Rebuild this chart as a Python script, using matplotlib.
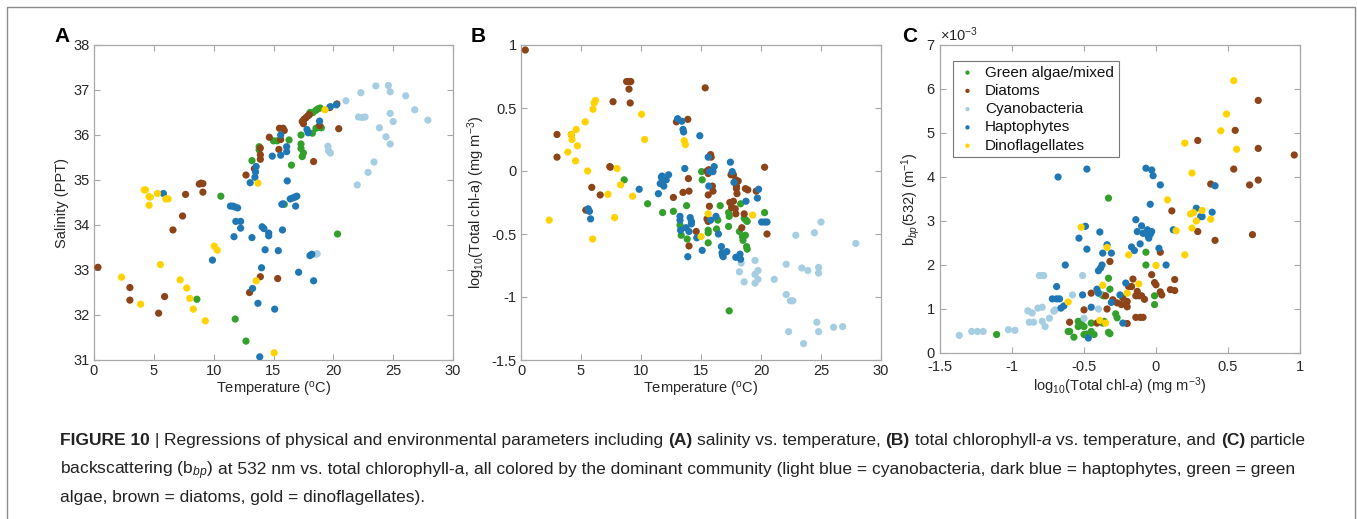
import matplotlib
matplotlib.use('Agg')
import matplotlib.pyplot as plt
from matplotlib.transforms import IdentityTransform
from matplotlib.patches import Rectangle
from matplotlib.ticker import ScalarFormatter

plt.rcParams['font.family'] = ['Liberation Sans', 'DejaVu Sans']
plt.rcParams['mathtext.fontset'] = 'custom'
plt.rcParams['mathtext.rm'] = 'Liberation Sans'
plt.rcParams['mathtext.it'] = 'Liberation Sans:italic'
plt.rcParams['mathtext.bf'] = 'Liberation Sans:bold'
plt.rcParams['axes.unicode_minus'] = False

groups = ['Green algae/mixed', 'Diatoms', 'Cyanobacteria', 'Haptophytes', 'Dinoflagellates']
colors = ['#33a02c', '#8c4418', '#a6cee3', '#1f78b4', '#ffd200']

# ---- panel A : salinity vs temperature ----
a_green_t = [8.6, 10.6, 11.8, 12.7, 13.2, 13.8, 13.8, 15.0, 15.3, 15.9, 16.3, 16.5, 17.3, 17.3, 17.3, 17.4, 17.5,
             18.05, 18.3, 18.55, 18.7, 18.9, 18.25, 18.55, 18.8, 19.0, 20.35]
a_green_s = [32.35, 34.64, 31.91, 31.42, 35.43, 35.67, 35.74, 35.87, 35.87, 34.46, 35.89, 35.33, 36.0, 35.8, 35.7, 35.52, 35.6,
             36.5, 36.5, 36.55, 36.58, 36.6, 36.04, 36.15, 36.17, 36.16, 33.8]
a_diat_t = [0.33, 3.0, 3.0, 5.4, 5.9, 6.6, 7.4, 7.65, 8.8, 8.95, 9.1, 9.1, 12.7, 13.0, 13.9, 13.4, 13.9, 13.9, 13.9,
            14.65, 15.45, 15.35, 15.5, 15.8, 15.9, 15.6, 17.4, 17.55, 17.7, 17.85, 18.0, 17.5, 18.35, 18.85, 19.7, 20.3, 20.45]
a_diat_s = [33.06, 32.61, 32.33, 32.04, 32.41, 33.89, 34.2, 34.68, 34.91, 34.93, 34.92, 34.73, 35.11, 32.5, 32.85, 35.25, 35.71, 35.56, 35.46,
            35.95, 35.68, 32.81, 36.15, 36.15, 36.1, 35.9, 36.3, 36.35, 36.38, 36.42, 36.45, 36.25, 35.41, 36.21, 36.61, 36.69, 36.14]
a_cyan_t = [18.5, 18.65, 19.55, 19.6, 19.75, 21.05, 22.0, 22.3, 22.1, 22.4, 22.65, 22.9, 23.4, 23.55, 23.85, 24.4, 24.6, 24.75,
            24.75, 24.75, 25.0, 26.05, 26.8, 27.9]
a_cyan_s = [33.35, 33.36, 35.75, 35.65, 35.6, 36.76, 34.89, 36.94, 36.4, 36.39, 36.4, 35.17, 35.4, 37.09, 36.16, 35.96, 37.1, 36.96,
            36.48, 35.8, 36.3, 36.87, 36.56, 36.33]
a_hapt_t = [5.8, 9.9, 11.4, 11.6, 11.8, 12.0, 11.7, 11.85, 12.25, 12.25, 13.05, 13.2, 13.25, 13.45, 13.5, 13.55, 13.7, 13.85, 14.0,
            14.05, 14.2, 14.3, 14.6, 14.6, 14.9, 15.1, 15.4, 15.6, 15.6, 15.7, 15.8, 15.75, 16.1, 16.1, 16.15, 16.4, 16.6, 16.8,
            16.95, 16.85, 17.1, 17.8, 17.9, 18.35, 18.05, 18.2, 18.85, 19.75, 20.25]
a_hapt_s = [34.7, 33.22, 34.42, 34.42, 34.4, 34.38, 33.74, 34.08, 34.08, 33.93, 34.94, 33.72, 32.59, 35.06, 35.18, 35.3, 32.26, 31.07, 33.05,
            33.96, 33.92, 33.45, 33.82, 33.76, 35.53, 32.13, 33.43, 36.0, 35.55, 34.46, 34.47, 33.89, 35.74, 35.63, 34.98, 34.58, 34.6, 34.62,
            34.64, 34.42, 32.95, 36.12, 36.05, 32.76, 33.32, 33.35, 36.31, 36.63, 36.67]
a_dino_t = [2.3, 3.9, 4.2, 4.3, 4.6, 4.7, 4.6, 5.3, 5.55, 6.0, 6.2, 7.2, 7.75, 8.0, 8.3, 9.3, 10.05, 10.3, 13.7, 13.55, 15.05, 19.3]
a_dino_s = [32.84, 32.24, 34.78, 34.78, 34.63, 34.62, 34.44, 34.7, 33.12, 34.58, 34.58, 32.78, 32.6, 32.37, 32.13, 31.87, 33.53, 33.44,
            34.93, 32.76, 31.16, 36.56]

# ---- panel B : log10 chl-a vs temperature ----
b_green_t = [5.6, 8.6, 10.55, 11.8, 12.7, 13.25, 13.35, 13.8, 13.85, 15.05, 15.1, 15.6, 15.6, 15.6, 16.3, 16.4, 16.6, 17.3, 17.35,
             17.3, 17.35, 18.2, 18.3, 18.45, 18.5, 18.6, 18.75, 18.85, 18.8, 18.85, 18.7, 20.3]
b_green_c = [-0.31, -0.07, -0.26, -0.33, -0.32, -0.43, -0.51, -0.275, -0.54, -0.005, -0.07, -0.47, -0.49, -0.57, -0.46, -0.39, -0.275,
             -0.33, -0.36, -0.44, -1.11, -0.48, -0.26, -0.52, -0.55, -0.375, -0.39, -0.4, -0.6, -0.62, -0.51, -0.33]
b_diat_t = [0.36, 3.0, 3.0, 4.2, 5.4, 5.9, 6.6, 7.4, 7.45, 7.67, 8.8, 9.0, 9.15, 9.0, 9.1, 12.7, 12.95, 13.5, 13.9, 13.95, 14.0, 14.0,
            14.6, 15.35, 15.5, 15.65, 15.6, 15.5, 15.6, 15.7, 15.6, 15.8, 15.85, 15.95, 16.0, 17.5, 17.7, 17.9, 17.4, 17.55, 17.7,
            17.85, 17.9, 17.95, 18.0, 17.95, 18.1, 18.4, 18.6, 18.7, 18.9, 19.6, 20.3, 20.5]
b_diat_c = [0.96, 0.29, 0.11, 0.29, -0.31, -0.13, -0.19, 0.035, 0.03, 0.55, 0.71, 0.71, 0.71, 0.65, 0.54, -0.21, 0.39, -0.17, 0.41, -0.06,
            -0.16, -0.595, -0.48, 0.66, 0.0, 0.01, -0.02, -0.38, -0.4, -0.28, -0.19, 0.13, 0.11, -0.12, -0.16, -0.03, -0.03, -0.07,
            -0.25, -0.29, -0.24, -0.3, -0.34, -0.12, -0.18, -0.14, -0.08, -0.45, -0.34, -0.14, -0.15, -0.16, 0.03, -0.5]
b_cyan_t = [18.1, 18.35, 18.2, 18.6, 19.5, 19.5, 19.75, 19.75, 19.5, 21.1, 22.1, 22.1, 22.3, 22.45, 22.65, 22.9, 23.4, 23.55, 23.9,
            24.45, 24.65, 24.8, 24.8, 24.8, 25.0, 26.05, 26.8, 27.9]
b_cyan_c = [-0.68, -0.73, -0.8, -0.88, -0.71, -0.82, -0.79, -0.86, -0.89, -0.86, -0.74, -0.98, -1.275, -1.03, -1.03, -0.51, -0.77,
            -1.37, -0.79, -0.49, -1.2, -0.765, -0.81, -1.275, -0.405, -1.24, -1.235, -0.575]
b_hapt_t = [5.6, 5.7, 5.8, 9.85, 11.45, 11.6, 11.7, 11.75, 11.85, 11.9, 12.1, 12.3, 13.05, 13.4, 13.5, 13.55, 13.65, 13.25, 13.25,
            13.3, 13.9, 13.75, 14.1, 14.2, 14.2, 14.0, 14.65, 14.9, 15.1, 15.6, 15.65, 15.7, 15.8, 16.0, 16.1, 16.25, 16.45, 16.7,
            16.75, 16.85, 16.8, 17.15, 17.45, 17.6, 17.75, 17.9, 18.25, 18.3, 18.75, 19.8, 19.7, 20.05, 20.3, 20.5]
b_hapt_c = [-0.3, -0.32, -0.38, -0.145, -0.18, -0.1, -0.05, -0.04, -0.08, -0.12, -0.07, -0.03, 0.415, 0.395, 0.33, 0.31, 0.02, -0.36,
            -0.39, -0.47, -0.68, -0.45, -0.37, -0.4, -0.42, -0.48, -0.53, 0.28, -0.63, 0.11, -0.12, -0.005, -0.39, -0.005, 0.035,
            -0.36, -0.5, -0.6, -0.65, -0.68, -0.67, -0.64, 0.07, -0.005, -0.09, -0.685, -0.66, -0.7, -0.24, -0.145, -0.215, -0.405,
            -0.405, -0.405]
b_dino_t = [2.35, 3.9, 4.2, 4.25, 4.6, 4.55, 4.7, 5.35, 5.55, 5.97, 6.0, 6.1, 6.2, 7.25, 7.8, 8.0, 8.3, 9.3, 10.05, 10.3, 13.6, 13.7,
            15.0, 15.6, 19.3]
b_dino_c = [-0.39, 0.15, 0.29, 0.25, 0.33, 0.08, 0.2, 0.39, 0.0, -0.54, 0.49, 0.54, 0.56, -0.185, -0.37, 0.02, -0.11, -0.2, 0.45, 0.25,
            0.24, 0.21, -0.52, -0.34, -0.35]

# ---- panel C : bbp(532) vs log10 chl-a (units 1e-3 m^-1) ----
c_green_x = [-1.107, -0.61, -0.6, -0.57, -0.54, -0.52, -0.54, -0.5, -0.5, -0.48, -0.45, -0.43, -0.375, -0.365, -0.37, -0.36,
             -0.33, -0.32, -0.33, -0.33, -0.32, -0.28, -0.27, -0.07, -0.07, -0.01, -0.01, -0.45]
c_green_y = [0.42, 0.49, 0.49, 0.36, 0.72, 0.72, 0.6, 0.6, 0.42, 0.43, 0.49, 0.42, 1.32, 1.3, 0.68, 0.72, 0.47, 0.44, 3.52, 1.7,
             1.45, 0.89, 0.8, 2.29, 2.0, 1.3, 1.1, 0.68]
c_diat_x = [-0.6, -0.5, -0.45, -0.41, -0.35, -0.34, -0.32, -0.3, -0.27, -0.24, -0.23, -0.2, -0.2, -0.19, -0.17, -0.2, -0.16,
            -0.14, -0.13, -0.12, -0.14, -0.11, -0.09, -0.1, -0.08, -0.03, -0.01, 0.0, 0.03, 0.04, 0.03, 0.1, 0.13, 0.13, 0.11,
            0.29, 0.29, 0.38, 0.41, 0.54, 0.55, 0.65, 0.67, 0.71, 0.71, 0.71, 0.96]
c_diat_y = [0.7, 0.98, 1.36, 0.68, 1.3, 1.0, 2.08, 1.21, 1.14, 1.1, 1.25, 1.17, 1.05, 1.51, 1.51, 0.67, 1.68, 1.3, 1.4, 1.3, 0.81,
            0.81, 0.81, 1.3, 1.22, 1.78, 1.6, 1.55, 1.39, 1.32, 2.29, 1.44, 1.42, 1.67, 3.23, 4.83, 2.76, 3.84, 2.56, 4.18, 5.06,
            3.82, 2.69, 5.74, 4.65, 3.93, 4.5]
c_cyan_x = [-1.366, -1.28, -1.24, -1.2, -1.025, -0.98, -0.89, -0.86, -0.88, -0.85, -0.81, -0.795, -0.78, -0.82, -0.79, -0.79,
            -0.77, -0.74, -0.71, -0.7, -0.58, -0.51, -0.5, -0.4, -0.395]
c_cyan_y = [0.4, 0.49, 0.49, 0.49, 0.53, 0.515, 0.96, 0.91, 0.7, 0.7, 1.76, 1.76, 1.76, 1.02, 1.04, 0.72, 0.6, 0.79, 0.95, 0.98,
            1.32, 1.76, 0.79, 1.0, 1.36]
c_hapt_x = [-0.68, -0.69, -0.72, -0.69, -0.67, -0.66, -0.64, -0.63, -0.535, -0.51, -0.49, -0.48, -0.48, -0.47, -0.45, -0.39,
            -0.41, -0.4, -0.4, -0.385, -0.375, -0.37, -0.34, -0.31, -0.31, -0.25, -0.23, -0.21, -0.17, -0.15, -0.14, -0.13,
            -0.11, -0.1, -0.09, -0.07, -0.06, -0.055, -0.05, -0.03, -0.04, -0.03, -0.02, -0.04, 0.02, 0.03, 0.07, 0.12, 0.28,
            0.31, 0.32, 0.39, 0.41]
c_hapt_y = [4.0, 1.51, 1.23, 1.23, 1.23, 1.02, 1.07, 2.0, 2.61, 1.32, 2.88, 2.36, 4.18, 0.34, 1.04, 2.75, 1.45, 1.36, 1.87, 1.93,
            2.0, 2.27, 2.46, 2.27, 1.15, 1.32, 0.68, 1.59, 2.41, 2.33, 3.03, 2.76, 2.48, 2.89, 2.72, 4.2, 2.8, 2.66, 2.61, 2.76,
            2.7, 4.16, 4.03, 3.38, 2.38, 3.82, 2.0, 2.8, 3.29, 3.1, 3.1, 3.2, 3.8]
c_dino_x = [-0.52, -0.61, -0.37, -0.39, -0.35, -0.34, -0.19, -0.2, -0.12, 0.0, 0.08, 0.14, 0.2, 0.2, 0.25, 0.24, 0.26, 0.25,
            0.28, 0.32, 0.38, 0.45, 0.49, 0.54, 0.56]
c_dino_y = [2.86, 1.16, 1.54, 0.74, 0.68, 2.4, 2.23, 1.36, 1.57, 1.99, 3.48, 2.78, 2.23, 4.77, 4.09, 3.16, 3.19, 2.84, 3.0, 3.24,
            3.04, 5.05, 5.43, 6.19, 4.63]

panel_a = [(a_green_t, a_green_s), (a_diat_t, a_diat_s), (a_cyan_t, a_cyan_s), (a_hapt_t, a_hapt_s), (a_dino_t, a_dino_s)]
panel_b = [(b_green_t, b_green_c), (b_diat_t, b_diat_c), (b_cyan_t, b_cyan_c), (b_hapt_t, b_hapt_c), (b_dino_t, b_dino_c)]
panel_c = [(c_green_x, c_green_y), (c_diat_x, c_diat_y), (c_cyan_x, c_cyan_y), (c_hapt_x, c_hapt_y), (c_dino_x, c_dino_y)]

W, H = 1357, 519
fig = plt.figure(figsize=(W / 100, H / 100), dpi=100)
fig.patch.set_facecolor('white')

def px_axes(l, t, r, b):
    return fig.add_axes([l / W, 1 - b / H, (r - l) / W, (b - t) / H])

axA = px_axes(94, 45, 453, 360)
axB = px_axes(521, 45, 881, 360)
axC = px_axes(940, 45, 1300, 353)

spine_col = '#a8a8a8'
tick_col = '#262626'
ms = 27
fs = 10.5

for ax, data in [(axA, panel_a), (axB, panel_b), (axC, panel_c)]:
    for (xs, ys), col, name in zip(data, colors, groups):
        if ax is axC:
            ys = [v * 1e-3 for v in ys]
        ax.scatter(xs, ys, s=ms, color=col, edgecolors='none', label=name, zorder=3)
    for sp in ax.spines.values():
        sp.set_color(spine_col)
        sp.set_linewidth(0.9)
    ax.tick_params(direction='in', top=True, right=True, length=4, width=0.8, color=spine_col,
                   labelcolor=tick_col, labelsize=fs, pad=3)

# A
axA.set_xlim(0, 30)
axA.set_ylim(31, 38)
axA.set_xticks([0, 5, 10, 15, 20, 25, 30])
axA.set_yticks([31, 32, 33, 34, 35, 36, 37, 38])
axA.set_xlabel('Temperature ($^{\\rm o}$C)', fontsize=fs, color=tick_col, labelpad=1)
axA.set_ylabel('Salinity (PPT)', fontsize=fs, color=tick_col, labelpad=3)

# B
axB.set_xlim(0, 30)
axB.set_ylim(-1.5, 1)
axB.set_xticks([0, 5, 10, 15, 20, 25, 30])
axB.set_yticks([-1.5, -1, -0.5, 0, 0.5, 1])
axB.set_yticklabels(['-1.5', '-1', '-0.5', '0', '0.5', '1'])
axB.set_xlabel('Temperature ($^{\\rm o}$C)', fontsize=fs, color=tick_col, labelpad=1)
axB.set_ylabel('log$_{10}$(Total chl-a) (mg m$^{-3}$)', fontsize=fs, color=tick_col, labelpad=3)

# C
axC.set_xlim(-1.5, 1)
axC.set_ylim(0, 7e-3)
axC.set_xticks([-1.5, -1, -0.5, 0, 0.5, 1])
axC.set_xticklabels(['-1.5', '-1', '-0.5', '0', '0.5', '1'])
axC.tick_params(axis='x', pad=5)
axC.set_yticks([i * 1e-3 for i in range(8)])
fmt = ScalarFormatter(useMathText=True)
fmt.set_powerlimits((-2, 2))
axC.yaxis.set_major_formatter(fmt)
axC.yaxis.get_offset_text().set_fontsize(fs)
axC.yaxis.get_offset_text().set_color(tick_col)
axC.set_xlabel('log$_{10}$(Total chl-$a$) (mg m$^{-3}$)', fontsize=fs, color=tick_col, labelpad=1)
axC.set_ylabel('b$_{bp}$(532) (m$^{-1}$)', fontsize=fs, color=tick_col, labelpad=3)
leg = axC.legend(loc='upper left', bbox_to_anchor=(0.036, 0.948), borderaxespad=0, fontsize=11, markerscale=0.6,
                 handletextpad=0.5, labelspacing=0.28, borderpad=0.3, handlelength=1.3,
                 fancybox=False, framealpha=1, edgecolor='#777777')
leg.get_frame().set_linewidth(0.8)
for t in leg.get_texts():
    t.set_color('#111111')

# panel letters
for lab, xp in [('A', 62), ('B', 478), ('C', 910)]:
    fig.text(xp, H - 37, lab, fontsize=15, fontweight='bold', ha='center', va='center',
             transform=IdentityTransform())

# outer frame
fig.patches.append(Rectangle((7, -5), 1348, H - 7 + 5, transform=IdentityTransform(),
                             fill=False, edgecolor='#8a8a8a', linewidth=1))

# caption
renderer = fig.canvas.get_renderer()
cap_size = 12.5

def text_w(s, **kw):
    t = fig.text(0, 0, s, fontsize=cap_size, transform=IdentityTransform(), **kw)
    w = t.get_window_extent(renderer).width
    t.remove()
    return w

space_w = text_w('n n') - text_w('nn')

def draw_line(x, y, runs):
    for txt, style, gap in runs:
        kw = {}
        if style == 'b':
            kw['fontweight'] = 'bold'
        elif style == 'i':
            kw['fontstyle'] = 'italic'
        t = fig.text(x, y, txt, fontsize=cap_size, color='#222222', va='baseline',
                     transform=IdentityTransform(), **kw)
        x += t.get_window_extent(renderer).width + (space_w if gap else 0)

draw_line(60, H - 445, [
    ('FIGURE 10', 'b', True), ('|', 'n', True),
    ('Regressions of physical and environmental parameters including', 'n', True),
    ('(A)', 'b', True), ('salinity vs. temperature,', 'n', True), ('(B)', 'b', True),
    ('total chlorophyll-', 'n', False), ('a', 'i', True), ('vs. temperature, and', 'n', True),
    ('(C)', 'b', True), ('particle', 'n', False)])
draw_line(60, H - 474, [
    ('backscattering (b$_{bp}$)', 'n', True),
    ('at 532 nm vs. total chlorophyll-a, all colored by the dominant community (light blue = cyanobacteria, '
     'dark blue = haptophytes, green = green', 'n', False)])
draw_line(60, H - 502, [('algae, brown = diatoms, gold = dinoflagellates).', 'n', False)])

fig.savefig('out.png', dpi=100, facecolor='white')
